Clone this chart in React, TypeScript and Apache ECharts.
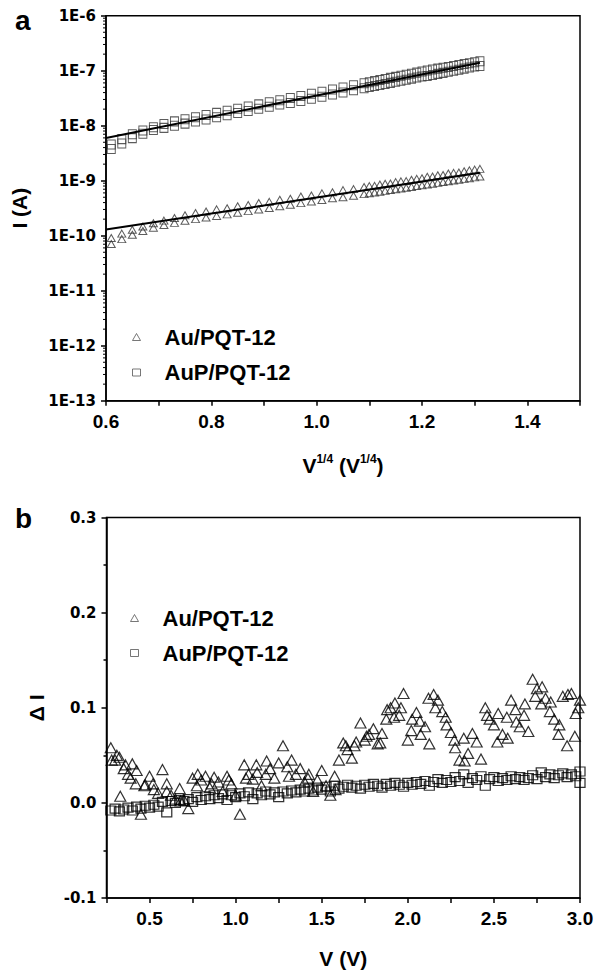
import React, { useEffect, useRef } from "react";
import * as echarts from "echarts";

// ---------- Panel a : I vs V^(1/4) ----------
const topX = [0.61, 0.63, 0.65, 0.67, 0.69, 0.71, 0.73, 0.75, 0.77, 0.79, 0.81, 0.83, 0.85, 0.87, 0.89, 0.91, 0.93, 0.95, 0.97, 0.99, 1.01, 1.03, 1.05, 1.07, 1.09, 1.10, 1.11, 1.12, 1.13, 1.14, 1.15, 1.16, 1.17, 1.18, 1.19, 1.20, 1.21, 1.22, 1.23, 1.24, 1.25, 1.26, 1.27, 1.28, 1.29, 1.30, 1.31];

const auUpper = [9.1e-11, 1.09e-10, 1.28e-10, 1.47e-10, 1.68e-10, 1.88e-10, 2.10e-10, 2.35e-10, 2.58e-10, 2.75e-10, 3.01e-10, 3.15e-10, 3.44e-10, 3.61e-10, 3.94e-10, 4.12e-10, 4.51e-10, 4.71e-10, 5.15e-10, 5.38e-10, 5.89e-10, 6.15e-10, 6.73e-10, 7.03e-10, 7.69e-10, 7.96e-10, 8.05e-10, 8.51e-10, 8.81e-10, 8.89e-10, 9.42e-10, 9.73e-10, 9.84e-10, 1.04e-9, 1.08e-9, 1.11e-9, 1.18e-9, 1.19e-9, 1.26e-9, 1.27e-9, 1.35e-9, 1.39e-9, 1.41e-9, 1.49e-9, 1.54e-9, 1.59e-9, 1.64e-9];
const auLower = [7.06e-11, 8.67e-11, 1.04e-10, 1.22e-10, 1.40e-10, 1.56e-10, 1.71e-10, 1.87e-10, 2.00e-10, 2.14e-10, 2.29e-10, 2.44e-10, 2.61e-10, 2.80e-10, 2.99e-10, 3.20e-10, 3.42e-10, 3.66e-10, 3.91e-10, 4.18e-10, 4.47e-10, 4.78e-10, 4.99e-10, 5.33e-10, 5.70e-10, 5.90e-10, 6.11e-10, 6.31e-10, 6.53e-10, 6.75e-10, 6.98e-10, 7.21e-10, 7.46e-10, 7.71e-10, 7.98e-10, 8.24e-10, 8.53e-10, 8.81e-10, 9.12e-10, 9.44e-10, 9.75e-10, 1.01e-9, 1.04e-9, 1.08e-9, 1.11e-9, 1.15e-9, 1.19e-9];
const apUpper = [4.54e-9, 5.70e-9, 6.98e-9, 8.18e-9, 9.35e-9, 1.07e-8, 1.20e-8, 1.31e-8, 1.43e-8, 1.56e-8, 1.71e-8, 1.87e-8, 2.04e-8, 2.23e-8, 2.44e-8, 2.66e-8, 2.91e-8, 3.18e-8, 3.48e-8, 3.80e-8, 4.15e-8, 4.54e-8, 4.95e-8, 5.42e-8, 5.92e-8, 6.19e-8, 6.47e-8, 6.76e-8, 7.06e-8, 7.40e-8, 7.73e-8, 8.07e-8, 8.43e-8, 8.83e-8, 9.23e-8, 9.64e-8, 1.01e-7, 1.05e-7, 1.09e-7, 1.13e-7, 1.17e-7, 1.22e-7, 1.27e-7, 1.32e-7, 1.37e-7, 1.42e-7, 1.48e-7];
const apLower = [3.78e-9, 4.74e-9, 5.94e-9, 7.13e-9, 8.34e-9, 9.12e-9, 9.95e-9, 1.09e-8, 1.19e-8, 1.30e-8, 1.42e-8, 1.55e-8, 1.70e-8, 1.85e-8, 2.03e-8, 2.21e-8, 2.42e-8, 2.58e-8, 2.82e-8, 3.09e-8, 3.37e-8, 3.69e-8, 4.03e-8, 4.41e-8, 4.81e-8, 5.04e-8, 5.26e-8, 5.50e-8, 5.74e-8, 6.01e-8, 6.28e-8, 6.56e-8, 6.86e-8, 7.18e-8, 7.50e-8, 7.83e-8, 8.00e-8, 8.37e-8, 8.75e-8, 9.14e-8, 9.55e-8, 1.00e-7, 1.04e-7, 1.09e-7, 1.14e-7, 1.19e-7, 1.22e-7];

const fitX = [0.6, 1.31];
const auFit = [1.3e-10, 1.4e-9];
const apFit = [6.0e-9, 1.4e-7];

const logDecades = [-13, -12, -11, -10, -9, -8, -7];
const logMinorMultipliers = [2, 3, 4, 5, 6, 7, 8, 9];

// ---------- Panel b : ΔI vs V ----------
const bottomV = [0.275, 0.3, 0.325, 0.35, 0.375, 0.4, 0.425, 0.45, 0.475, 0.5, 0.525, 0.55, 0.575, 0.6, 0.625, 0.65, 0.675, 0.7, 0.725, 0.75, 0.775, 0.8, 0.825, 0.85, 0.875, 0.9, 0.925, 0.95, 0.975, 1.0, 1.025, 1.05, 1.075, 1.1, 1.125, 1.15, 1.175, 1.2, 1.225, 1.25, 1.275, 1.3, 1.325, 1.35, 1.375, 1.4, 1.425, 1.45, 1.475, 1.5, 1.525, 1.55, 1.575, 1.6, 1.625, 1.65, 1.675, 1.7, 1.725, 1.75, 1.775, 1.8, 1.825, 1.85, 1.875, 1.9, 1.925, 1.95, 1.975, 2.0, 2.025, 2.05, 2.075, 2.1, 2.125, 2.15, 2.175, 2.2, 2.225, 2.25, 2.275, 2.3, 2.325, 2.35, 2.375, 2.4, 2.425, 2.45, 2.475, 2.5, 2.525, 2.55, 2.575, 2.6, 2.625, 2.65, 2.675, 2.7, 2.725, 2.75, 2.775, 2.8, 2.825, 2.85, 2.875, 2.9, 2.925, 2.95, 2.975, 3.0];

const auDI = [0.058, 0.045, 0.048, 0.036, 0.030, 0.041, 0.034, -0.012, 0.019, 0.028, 0.014, 0.010, 0.035, 0.012, 0.008, 0.004, 0.015, 0.003, -0.006, 0.026, 0.018, 0.024, 0.028, 0.016, 0.027, 0.022, 0.012, 0.028, 0.020, 0.008, -0.012, 0.040, 0.030, 0.025, 0.032, 0.018, 0.030, 0.036, 0.026, 0.042, 0.060, 0.038, 0.045, 0.030, 0.036, 0.022, 0.030, 0.012, 0.024, 0.034, 0.018, 0.008, 0.028, 0.045, 0.063, 0.056, 0.047, 0.064, 0.084, 0.066, 0.072, 0.078, 0.062, 0.073, 0.088, 0.100, 0.105, 0.092, 0.115, 0.066, 0.088, 0.095, 0.072, 0.080, 0.062, 0.114, 0.108, 0.096, 0.082, 0.074, 0.058, 0.045, 0.068, 0.052, 0.073, 0.064, 0.046, 0.100, 0.088, 0.082, 0.094, 0.072, 0.090, 0.108, 0.098, 0.080, 0.092, 0.075, 0.130, 0.120, 0.104, 0.110, 0.096, 0.088, 0.072, 0.112, 0.060, 0.115, 0.094, 0.108];

const auExtraV = [0.28, 0.31, 0.33, 0.36, 0.39, 0.42, 0.47, 0.52, 0.60, 0.68, 0.78, 0.86, 0.96, 1.06, 1.12, 1.18, 1.31, 1.42, 1.58, 1.64, 1.69, 1.76, 1.84, 1.88, 1.92, 1.96, 2.02, 2.07, 2.12, 2.16, 2.22, 2.27, 2.33, 2.46, 2.52, 2.58, 2.63, 2.68, 2.74, 2.78, 2.83, 2.88, 2.93, 2.97, 2.99];
const auExtraDI = [0.045, 0.050, 0.007, 0.040, 0.026, 0.020, 0.018, 0.020, 0.020, 0.002, 0.030, 0.020, 0.024, 0.026, 0.040, 0.044, 0.028, 0.026, 0.014, 0.060, 0.060, 0.070, 0.063, 0.098, 0.090, 0.100, 0.076, 0.086, 0.110, 0.100, 0.090, 0.066, 0.044, 0.092, 0.064, 0.068, 0.085, 0.104, 0.112, 0.122, 0.106, 0.082, 0.114, 0.070, 0.100];

const apDI = [-0.008, -0.006, -0.009, -0.007, -0.005, -0.008, -0.004, -0.006, -0.003, -0.005, -0.002, -0.004, 0.001, -0.010, 0.002, 0.000, 0.003, 0.002, 0.004, 0.001, 0.006, 0.003, 0.007, 0.004, 0.008, 0.005, 0.009, 0.003, 0.008, 0.006, 0.010, 0.007, 0.011, 0.004, 0.010, 0.008, 0.012, 0.009, 0.011, 0.006, 0.012, 0.010, 0.013, 0.011, 0.014, 0.012, 0.015, 0.013, 0.016, 0.014, 0.017, 0.012, 0.018, 0.015, 0.017, 0.019, 0.016, 0.018, 0.015, 0.019, 0.017, 0.020, 0.018, 0.016, 0.020, 0.018, 0.021, 0.019, 0.017, 0.021, 0.019, 0.022, 0.020, 0.023, 0.018, 0.022, 0.025, 0.021, 0.024, 0.022, 0.027, 0.023, 0.030, 0.021, 0.026, 0.024, 0.028, 0.018, 0.025, 0.027, 0.023, 0.026, 0.024, 0.028, 0.025, 0.027, 0.024, 0.026, 0.029, 0.025, 0.032, 0.027, 0.030, 0.026, 0.029, 0.031, 0.027, 0.030, 0.028, 0.033];
const apExtraV = [3.0];
const apExtraDI = [0.021];

const AU = "Au/PQT-12";
const AP = "AuP/PQT-12";

const ARIAL = "'Liberation Sans', Arial, sans-serif";
const DEJAVU = "'DejaVu Sans', sans-serif";

export default function App() {
  const ref = useRef<HTMLDivElement>(null);

  useEffect(() => {
    if (!ref.current) return;
    const chart = echarts.init(ref.current, undefined, { renderer: "svg" });

    const zip = (xs: number[], ys: number[]) => xs.map((x, i) => [x, ys[i]]);
    const auTop = zip(topX, auUpper).concat(zip(topX, auLower));
    const apTop = zip(topX, apUpper).concat(zip(topX, apLower));
    const auBot = zip(bottomV, auDI).concat(zip(auExtraV, auExtraDI));
    const apBot = zip(bottomV, apDI).concat(zip(apExtraV, apExtraDI));
    const minorTicks: number[][] = [];
    logDecades.forEach((d) =>
      logMinorMultipliers.forEach((k) => minorTicks.push([0.6, k * Math.pow(10, d)]))
    );

    const hollow = (c: string, w: number) => ({
      color: "rgba(0,0,0,0)",
      borderColor: c,
      borderWidth: w,
    });

    const axisLine = { show: true, onZero: false, lineStyle: { color: "#000", width: 1.5 } };

    const option: any = {
      animation: false,
      backgroundColor: "#fff",
      graphic: [
        { type: "text", left: 15, top: 6, style: { text: "a", font: `bold 28px ${ARIAL}`, fill: "#000" } },
        { type: "text", left: 15, top: 504, style: { text: "b", font: `bold 28px ${ARIAL}`, fill: "#000" } },
      ],
      grid: [
        { left: 106, top: 15.7, width: 474, height: 385, show: true, borderColor: "#000", borderWidth: 1.5, backgroundColor: "rgba(0,0,0,0)" },
        { left: 106.5, top: 517.5, width: 473.5, height: 383.5, show: true, borderColor: "#000", borderWidth: 1.5, backgroundColor: "rgba(0,0,0,0)" },
      ],
      legend: [
        {
          left: 132, top: 324, orient: "vertical", padding: 0, itemGap: 9.5,
          itemWidth: 8, itemHeight: 7, selectedMode: false,
          itemStyle: hollow("#555", 1),
          textStyle: { fontSize: 22, fontWeight: "bold", fontFamily: ARIAL, color: "#000", lineHeight: 26, padding: [0, 0, 0, 19] },
          data: [{ name: AU, icon: "triangle" }, { name: AP, icon: "rect" }],
        },
        {
          left: 130, top: 605, orient: "vertical", padding: 0, itemGap: 9,
          itemWidth: 8, itemHeight: 7, selectedMode: false,
          itemStyle: hollow("#555", 1),
          textStyle: { fontSize: 22, fontWeight: "bold", fontFamily: ARIAL, color: "#000", lineHeight: 26, padding: [0, 0, 0, 19] },
          data: [{ name: AU, icon: "triangle" }, { name: AP, icon: "rect" }],
        },
      ],
      xAxis: [
        {
          gridIndex: 0, type: "value", min: 0.6, max: 1.5, interval: 0.1,
          axisLine, splitLine: { show: false },
          axisTick: { show: true, inside: false, length: 5, lineStyle: { color: "#000", width: 1.5 } },
          axisLabel: {
            margin: 11, fontSize: 19, fontWeight: "bold", fontFamily: ARIAL, color: "#000",
            formatter: (v: number) => (Math.round(v * 10) % 2 === 0 && v < 1.45 ? v.toFixed(1) : ""),
          },
          name: "{b|V}{s|1/4}{b| (V}{s|1/4}{b|)}",
          nameLocation: "middle", nameGap: 52,
          nameTextStyle: {
            rich: {
              b: { fontSize: 21, fontWeight: "bold", fontFamily: ARIAL, color: "#000", lineHeight: 26 },
              s: { fontSize: 12, fontWeight: "bold", fontFamily: ARIAL, color: "#000", verticalAlign: "top", lineHeight: 14 },
            },
          },
        },
        {
          gridIndex: 1, type: "value", min: 0.25, max: 3.0, interval: 0.25,
          axisLine, splitLine: { show: false },
          axisTick: { show: true, inside: false, length: 5, lineStyle: { color: "#000", width: 1.5 } },
          axisLabel: {
            margin: 11, fontSize: 19, fontWeight: "bold", fontFamily: ARIAL, color: "#000",
            formatter: (v: number) => (Math.round(v * 100) % 50 === 0 ? v.toFixed(1) : ""),
          },
          name: "V (V)", nameLocation: "middle", nameGap: 50,
          nameTextStyle: { fontSize: 21, fontWeight: "bold", fontFamily: ARIAL, color: "#000" },
        },
      ],
      yAxis: [
        {
          gridIndex: 0, type: "log", logBase: 10, min: 1e-13, max: 1e-6, interval: 1,
          axisLine, splitLine: { show: false },
          axisTick: { show: true, inside: false, length: 5, lineStyle: { color: "#000", width: 1.5 } },
          axisLabel: {
            margin: 10, fontSize: 15, fontWeight: "bold", fontFamily: DEJAVU, color: "#000",
            formatter: (v: number) => "1E" + Math.round(Math.log10(v)),
          },
          name: "I (A)", nameLocation: "middle", nameGap: 76,
          nameTextStyle: { fontSize: 21, fontWeight: "bold", fontFamily: ARIAL, color: "#000" },
        },
        {
          gridIndex: 1, type: "value", min: -0.1, max: 0.3, interval: 0.1,
          axisLine, splitLine: { show: false },
          axisTick: { show: true, inside: false, length: 5, lineStyle: { color: "#000", width: 1.5 } },
          minorTick: { show: true, splitNumber: 2, length: 3, lineStyle: { color: "#000", width: 1.5 } },
          minorSplitLine: { show: false },
          axisLabel: {
            margin: 10, fontSize: 15, fontWeight: "bold", fontFamily: DEJAVU, color: "#000",
            formatter: (v: number) => v.toFixed(1),
          },
          name: "Δ I", nameLocation: "middle", nameGap: 60,
          nameTextStyle: { fontSize: 21, fontWeight: "bold", fontFamily: ARIAL, color: "#000" },
        },
      ],
      series: [
        {
          type: "custom", xAxisIndex: 0, yAxisIndex: 0, silent: true, clip: false,
          data: minorTicks, encode: { x: 0, y: 1 },
          renderItem: (params: any, api: any) => {
            const p = api.coord([api.value(0), api.value(1)]);
            return {
              type: "line",
              shape: { x1: p[0] - 3, y1: p[1], x2: p[0], y2: p[1] },
              style: { stroke: "#000", lineWidth: 1 },
            };
          },
        },
        {
          name: AU, type: "scatter", xAxisIndex: 0, yAxisIndex: 0,
          symbol: "triangle", symbolSize: [8, 7], itemStyle: hollow("#333", 1), data: auTop, z: 2,
        },
        {
          name: AP, type: "scatter", xAxisIndex: 0, yAxisIndex: 0,
          symbol: "rect", symbolSize: [8, 9], itemStyle: hollow("#333", 1), data: apTop, z: 2,
        },
        {
          name: "fitAu", type: "line", xAxisIndex: 0, yAxisIndex: 0, symbol: "none", z: 3,
          lineStyle: { color: "#000", width: 2 }, data: zip(fitX, auFit),
        },
        {
          name: "fitAuP", type: "line", xAxisIndex: 0, yAxisIndex: 0, symbol: "none", z: 3,
          lineStyle: { color: "#000", width: 2 }, data: zip(fitX, apFit),
        },
        {
          name: AU, type: "scatter", xAxisIndex: 1, yAxisIndex: 1,
          symbol: "triangle", symbolSize: [11, 10], itemStyle: hollow("#000", 1.2), data: auBot,
        },
        {
          name: AP, type: "scatter", xAxisIndex: 1, yAxisIndex: 1,
          symbol: "rect", symbolSize: [10, 9], itemStyle: hollow("#000", 1.2), data: apBot,
        },
      ],
    };

    chart.setOption(option);
    return () => chart.dispose();
  }, []);

  return (
    <div
      ref={ref}
      style={{ position: "absolute", left: 0, top: 0, width: 603, height: 970, background: "#fff" }}
    />
  );
}
